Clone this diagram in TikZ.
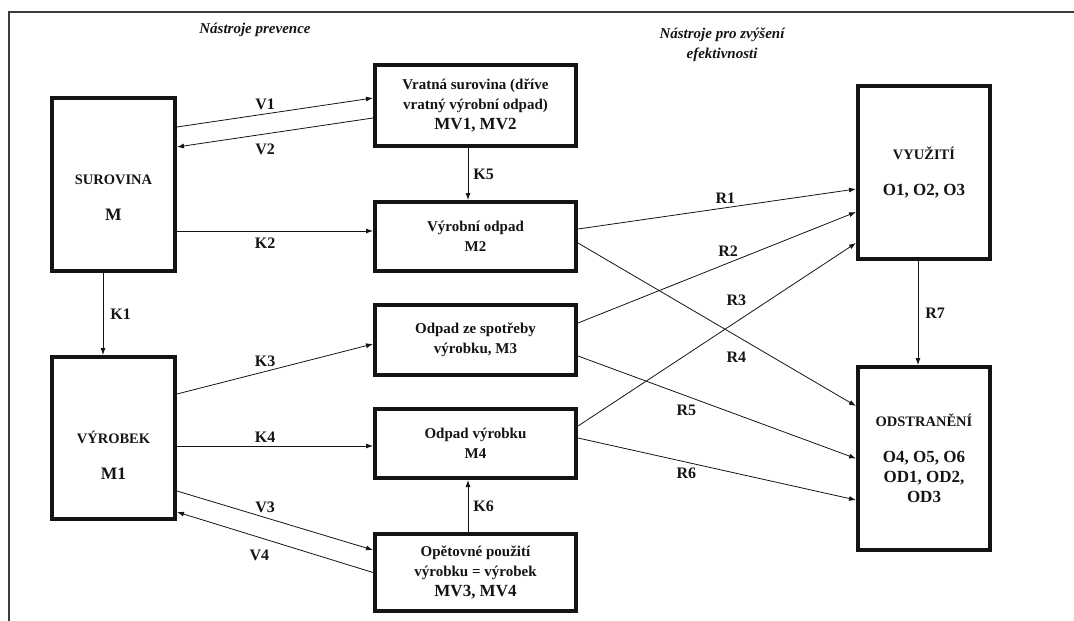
\documentclass[tikz,border=0pt]{standalone}
\usepackage{fontspec}
\setmainfont{Liberation Serif}
\usetikzlibrary{arrows.meta}
\definecolor{ink}{HTML}{141414}
\definecolor{rule}{HTML}{3C3C3C}
\tikzset{box/.style={draw=ink,line width=4pt,inner sep=2pt,align=center,text=ink,
  font=\fontsize{15}{20}\selectfont\bfseries},
flow/.style={-{Latex[length=7pt,width=5pt]},line width=.8pt,ink},
lab/.style={font=\fontsize{16}{18}\selectfont\bfseries,text=ink,inner sep=1pt},
heading/.style={font=\fontsize{15}{20}\selectfont\bfseries\itshape,text=ink,align=center},
captxt/.style={align=center,text=ink,font=\fontsize{14.5}{36}\selectfont\bfseries}}

\begin{document}
\begin{tikzpicture}[x=1pt,y=-1pt]
\useasboundingbox (0,0) rectangle (1074,621);
\draw[rule,line width=1.2pt] (9,621)--(9,12)--(1074,12);
\node[heading] (prev) at (255,30) {Nástroje prevence};
\node[heading] (efek) at (722,45) {Nástroje pro zvýšení\\efektivnosti};
% boxes
\node[box,minimum width=123pt,minimum height=173pt] (sur) at (113.5,184.5) {};
\node[captxt] (surt) at ([yshift=-13pt]sur.center) {SUROVINA\\{\fontsize{17.5}{36}\selectfont M}};
\node[box,minimum width=123pt,minimum height=162pt] (vyr) at (113.5,438) {};
\node[captxt] (vyrt) at ([yshift=-17pt]vyr.center) {VÝROBEK\\{\fontsize{17.5}{36}\selectfont M1}};
\node[box,minimum width=201pt,minimum height=81pt] (vrat) at (475.5,105.5)
  {Vratná surovina (dříve\\vratný výrobní odpad)\\{\fontsize{17}{18}\selectfont MV1, MV2}};
\node[box,minimum width=201pt,minimum height=69pt] (odp) at (475.5,236.5) {Výrobní odpad\\M2};
\node[box,minimum width=201pt,minimum height=70pt] (spot) at (475.5,340) {Odpad ze spotřeby\\výrobku, M3};
\node[box,minimum width=201pt,minimum height=69pt] (odv) at (475.5,443.5) {Odpad výrobku\\M4};
\node[box,minimum width=201pt,minimum height=77pt] (opet) at (475.5,572.5)
  {Opětovné použití\\výrobku = výrobek\\{\fontsize{17}{20}\selectfont MV3, MV4}};
\node[box,minimum width=132pt,minimum height=173pt,font=\fontsize{14.5}{36}\selectfont\bfseries] (vyuz) at (924,172.5)
  {VYUŽITÍ\\{\fontsize{17}{36}\selectfont O1, O2, O3}};
\node[box,minimum width=132pt,minimum height=183pt,font=\fontsize{17}{20}\selectfont\bfseries] (odst) at (924,458.5)
  {{\fontsize{14.5}{20}\selectfont ODSTRANĚNÍ}\\[16pt]O4, O5, O6\\OD1, OD2,\\OD3};
% prevence
\draw[flow] ([yshift=57.5pt]sur.east) -- node[lab,pos=.45,above=3pt] {V1} ([yshift=7.5pt]vrat.west);
\draw[flow] ([yshift=-12.5pt]vrat.west) -- node[lab,pos=.55,below=9pt] {V2} ([yshift=37.5pt]sur.east);
\draw[flow] ([yshift=-46.5pt]sur.east) -- node[lab,pos=.45,below=6pt] {K2} ([yshift=-46.5pt]sur.east -| odp.west);
\draw[flow] ([xshift=-10.5pt]sur.south) -- node[lab,right=6pt] {K1} ([xshift=-10.5pt]vyr.north);
\draw[flow] ([xshift=-7.5pt]vrat.south) -- node[lab,right=4pt] {K5} ([xshift=-7.5pt]odp.north);
\draw[flow] ([yshift=44pt]vyr.east) -- node[lab,pos=.45,above=3pt] {K3} ([yshift=-4pt]spot.west);
\draw[flow] ([yshift=-8pt]vyr.east) -- node[lab,pos=.45,above=2pt] {K4} ([yshift=-8pt]vyr.east -| odv.west);
\draw[flow] ([yshift=-53pt]vyr.east) -- node[lab,pos=.45,above=3pt] {V3} ([yshift=22.5pt]opet.west);
\draw[flow] (opet.west) -- node[lab,pos=.58,below=11pt] {V4} ([yshift=-74pt]vyr.east);
\draw[flow] ([xshift=-7.5pt]opet.north) -- node[lab,right=4pt] {K6} ([xshift=-7.5pt]odv.south);
% efektivnost
\draw[flow] ([yshift=7.5pt]odp.east) -- node[lab,pos=.53,above=3pt] {R1} ([yshift=-16.5pt]vyuz.west);
\draw[flow] ([yshift=17pt]spot.east) -- node[lab,pos=.54,above=5pt] {R2} ([yshift=-39.5pt]vyuz.west);
\draw[flow] ([yshift=17.5pt]odv.east) -- node[lab,pos=.57,above=15pt] {R3} ([yshift=-70.5pt]vyuz.west);
\draw[flow] ([yshift=-6.5pt]odp.east) -- node[lab,pos=.57,below=15pt] {R4} ([yshift=52.5pt]odst.west);
\draw[flow] ([yshift=-16pt]spot.east) -- node[lab,pos=.39,below=8pt] {R5} (odst.west);
\draw[flow] ([yshift=5.5pt]odv.east) -- node[lab,pos=.39,below=4pt] {R6} ([yshift=-41.5pt]odst.west);
\draw[flow] ([xshift=-6pt]vyuz.south) -- node[lab,right=6pt] {R7} ([xshift=-6pt]odst.north);
\end{tikzpicture}
\end{document}
